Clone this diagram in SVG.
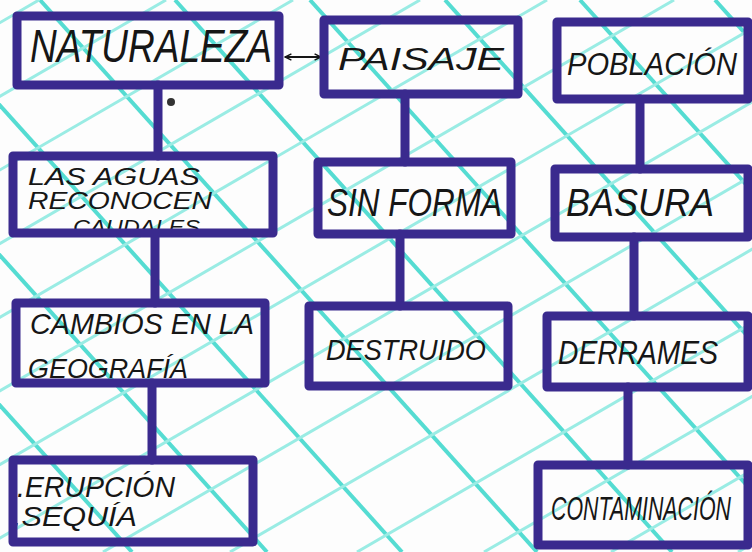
<svg xmlns="http://www.w3.org/2000/svg" width="752" height="552" viewBox="0 0 752 552">
<defs>
<style>
.bg{fill:#fdfdfd}
.gd{stroke:#55dcd2;stroke-width:4;fill:none}
.ga{stroke:#9aece4;stroke-width:3;fill:none}
.box{fill:none;stroke:#3a2a8e;stroke-width:9;stroke-linejoin:round}
.conn{stroke:#3a2a8e;stroke-width:9;stroke-linecap:round;fill:none}
.t{font-family:"Liberation Sans","DejaVu Sans",sans-serif;font-style:italic;fill:#161616}
.dbl{stroke:#161616;stroke-width:2;fill:none}
</style>
<marker id="ah" viewBox="0 0 10 10" refX="9" refY="5" markerWidth="8" markerHeight="8" orient="auto-start-reverse" markerUnits="userSpaceOnUse">
<path d="M1,1 L9,5 L1,9" fill="none" stroke="#161616" stroke-width="1.8"/>
</marker>
</defs>
<rect class="bg" x="0" y="0" width="752" height="552"/>
<g id="grid">
<line class="gd" x1="-635" y1="0" x2="-138" y2="552"/>
<line class="gd" x1="-500" y1="0" x2="-3" y2="552"/>
<line class="gd" x1="-365" y1="0" x2="132" y2="552"/>
<line class="gd" x1="-230" y1="0" x2="267" y2="552"/>
<line class="gd" x1="-95" y1="0" x2="402" y2="552"/>
<line class="gd" x1="40" y1="0" x2="537" y2="552"/>
<line class="gd" x1="175" y1="0" x2="672" y2="552"/>
<line class="gd" x1="310" y1="0" x2="807" y2="552"/>
<line class="gd" x1="445" y1="0" x2="942" y2="552"/>
<line class="gd" x1="580" y1="0" x2="1077" y2="552"/>
<line class="gd" x1="715" y1="0" x2="1212" y2="552"/>
<line class="ga" x1="39" y1="0" x2="-913" y2="552"/>
<line class="ga" x1="166" y1="0" x2="-786" y2="552"/>
<line class="ga" x1="293" y1="0" x2="-659" y2="552"/>
<line class="ga" x1="420" y1="0" x2="-532" y2="552"/>
<line class="ga" x1="547" y1="0" x2="-405" y2="552"/>
<line class="ga" x1="674" y1="0" x2="-278" y2="552"/>
<line class="ga" x1="801" y1="0" x2="-151" y2="552"/>
<line class="ga" x1="928" y1="0" x2="-24" y2="552"/>
<line class="ga" x1="1055" y1="0" x2="103" y2="552"/>
<line class="ga" x1="1182" y1="0" x2="230" y2="552"/>
<line class="ga" x1="1309" y1="0" x2="357" y2="552"/>
<line class="ga" x1="1436" y1="0" x2="484" y2="552"/>
<line class="ga" x1="1563" y1="0" x2="611" y2="552"/>
<line class="ga" x1="1690" y1="0" x2="738" y2="552"/>
</g>
<g id="connectors">
<line class="conn" x1="158" y1="85" x2="158" y2="156"/>
<line class="conn" x1="405" y1="94" x2="405" y2="162"/>
<line class="conn" x1="640" y1="99" x2="640" y2="169"/>
<line class="conn" x1="155" y1="233" x2="155" y2="303"/>
<line class="conn" x1="400" y1="234" x2="400" y2="306"/>
<line class="conn" x1="634" y1="237" x2="634" y2="316"/>
<line class="conn" x1="152" y1="383" x2="152" y2="460"/>
<line class="conn" x1="628" y1="387" x2="628" y2="465"/>
<line class="dbl" x1="285" y1="57" x2="321" y2="57" marker-start="url(#ah)" marker-end="url(#ah)"/>
</g>
<g id="n-naturaleza">
<text class="t" x="30" y="62" font-size="46" textLength="242" lengthAdjust="spacingAndGlyphs">NATURALEZA</text>
<rect class="box" x="17" y="16" width="262" height="69"/>
</g>
<g id="n-paisaje">
<text class="t" x="338" y="70" font-size="32" textLength="166" lengthAdjust="spacingAndGlyphs">PAISAJE</text>
<rect class="box" x="324" y="20" width="194" height="74"/>
</g>
<g id="n-poblacion">
<text class="t" x="567" y="75" font-size="31" textLength="170" lengthAdjust="spacingAndGlyphs">POBLACIÓN</text>
<rect class="box" x="557" y="22" width="191" height="77"/>
</g>
<g id="n-aguas">
<text class="t" x="28" y="185" font-size="23" textLength="172" lengthAdjust="spacingAndGlyphs">LAS AGUAS</text>
<text class="t" x="28" y="209" font-size="23" textLength="184" lengthAdjust="spacingAndGlyphs">RECONOCEN</text>
<text class="t" x="73" y="234" font-size="20" textLength="127" lengthAdjust="spacingAndGlyphs">CAUDALES</text>
<rect class="box" x="13" y="156" width="260" height="77"/>
</g>
<g id="n-sinforma">
<text class="t" x="327" y="216" font-size="38" textLength="175" lengthAdjust="spacingAndGlyphs">SIN FORMA</text>
<rect class="box" x="318" y="162" width="193" height="72"/>
</g>
<g id="n-basura">
<text class="t" x="566" y="216" font-size="38" textLength="148" lengthAdjust="spacingAndGlyphs">BASURA</text>
<rect class="box" x="555" y="169" width="193" height="68"/>
</g>
<g id="n-cambios">
<text class="t" x="30" y="334" font-size="29" textLength="224" lengthAdjust="spacingAndGlyphs">CAMBIOS EN LA</text>
<text class="t" x="28" y="378" font-size="28" textLength="160" lengthAdjust="spacingAndGlyphs">GEOGRAFÍA</text>
<rect class="box" x="16" y="303" width="249" height="80"/>
</g>
<g id="n-destruido">
<text class="t" x="326" y="360" font-size="30" textLength="160" lengthAdjust="spacingAndGlyphs">DESTRUIDO</text>
<rect class="box" x="309" y="306" width="199" height="80"/>
</g>
<g id="n-derrames">
<text class="t" x="558" y="364" font-size="33" textLength="160" lengthAdjust="spacingAndGlyphs">DERRAMES</text>
<rect class="box" x="547" y="316" width="201" height="71"/>
</g>
<g id="n-erupcion">
<text class="t" x="17" y="497" font-size="30" textLength="158" lengthAdjust="spacingAndGlyphs">.ERUPCIÓN</text>
<text class="t" x="13" y="526" font-size="28" textLength="124" lengthAdjust="spacingAndGlyphs">.SEQUÍA</text>
<rect class="box" x="13" y="460" width="240" height="82"/>
</g>
<g id="n-contaminacion">
<text class="t" x="551" y="520" font-size="34" textLength="180" lengthAdjust="spacingAndGlyphs">CONTAMINACIÓN</text>
<rect class="box" x="538" y="465" width="210" height="80"/>
</g>
<circle cx="171" cy="102" r="4" fill="#333"/>
</svg>
